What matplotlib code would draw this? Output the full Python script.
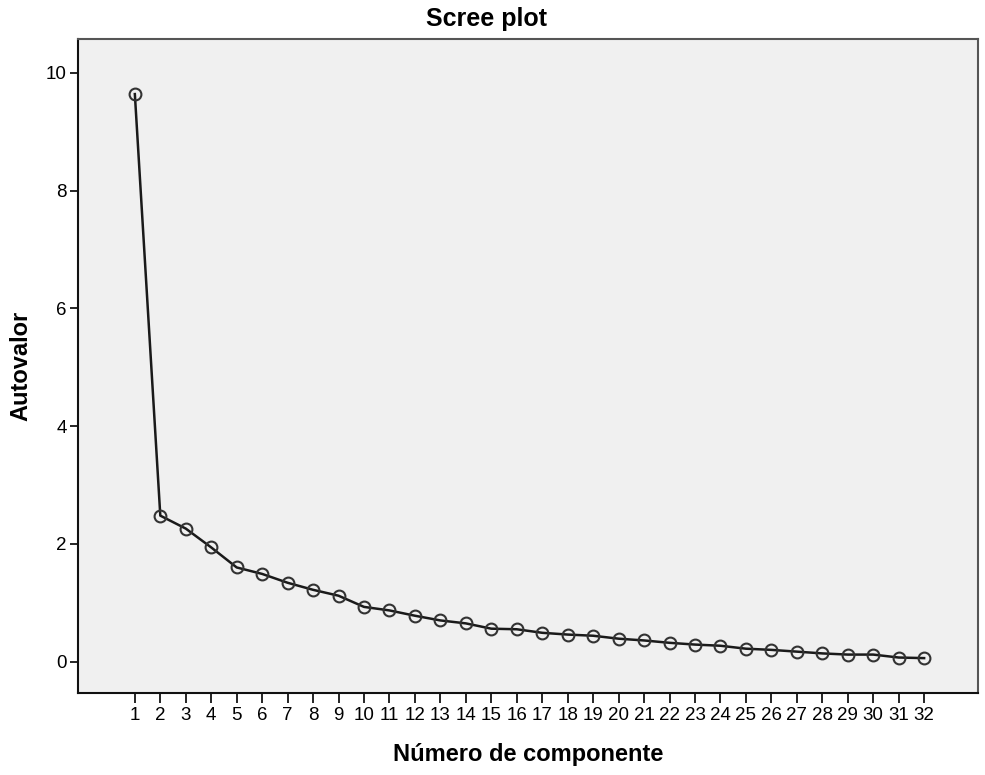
import numpy as np
import matplotlib.pyplot as plt

plt.rcParams['font.family'] = ['Liberation Sans', 'DejaVu Sans']

# Eigenvalues
components = np.arange(1, 33)
eigenvalues = [9.64, 2.48, 2.26, 1.94, 1.60, 1.49, 1.34, 1.22, 1.12, 0.93,
               0.87, 0.78, 0.70, 0.65, 0.56, 0.55, 0.49, 0.46, 0.44, 0.39,
               0.36, 0.32, 0.29, 0.27, 0.22, 0.20, 0.17, 0.14, 0.12, 0.12,
               0.07, 0.06]
y_ticks = [0, 2, 4, 6, 8, 10]

fig = plt.figure(figsize=(9.85, 7.75), dpi=100)
ax = fig.add_axes([0.079, 0.106, 0.914, 0.844])
ax.set_facecolor('#f0f0f0')

ax.plot(components, eigenvalues, color='#1a1a1a', lw=1.8,
        marker='o', ms=8.5, mfc='none', mec='#333333', mew=1.5)

ax.set_xlim(-1.24, 34.12)
ax.set_ylim(-0.53, 10.58)
ax.set_xticks(components)
ax.set_xticklabels([str(c) for c in components])
ax.set_yticks(y_ticks)
ax.tick_params(axis='x', length=7, width=1.2, labelsize=13.5, pad=3)
ax.tick_params(axis='y', length=6, width=1.2, labelsize=13.5, pad=2)

for side in ['left', 'bottom']:
    ax.spines[side].set_color('#111111')
    ax.spines[side].set_linewidth(1.5)
for side in ['top', 'right']:
    ax.spines[side].set_color('#555555')
    ax.spines[side].set_linewidth(1.5)

fig.text(0.494, 0.975, 'Scree plot', fontsize=18, fontweight='bold',
         ha='center', va='center')
ax.set_xlabel('Número de componente', fontsize=17, fontweight='bold', labelpad=14)
ax.set_ylabel('Autovalor', fontsize=17, fontweight='bold', labelpad=10)

fig.savefig('out.png', dpi=100)
